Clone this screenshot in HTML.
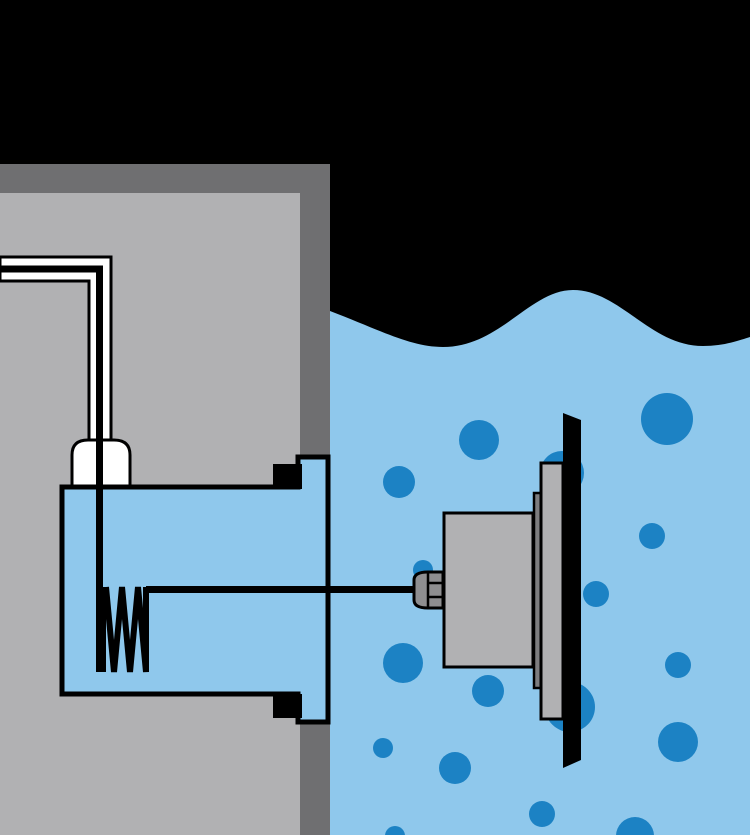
<!DOCTYPE html>
<html><head><style>html,body{margin:0;padding:0;background:#000}svg{display:block}</style></head>
<body>
<svg width="750" height="835" viewBox="0 0 750 835" xmlns="http://www.w3.org/2000/svg">
<rect width="750" height="835" fill="#000"/>
<!-- water -->
<path d="M330,311 C380,330 410,347 443,347 C500,347 530,290 573,290 C620,290 650,346 703,346 C725,346 740,340 750,337 L750,835 L330,835 Z" fill="#8fc8ec"/>
<g fill="#1c82c4">
<circle cx="667" cy="419" r="26"/><circle cx="479" cy="440" r="20"/><circle cx="399" cy="482" r="16"/>
<circle cx="562" cy="473" r="22"/><circle cx="652" cy="536" r="13"/><circle cx="423" cy="570" r="10"/>
<circle cx="596" cy="594" r="13"/><circle cx="403" cy="663" r="20"/><circle cx="488" cy="691" r="16"/>
<circle cx="570" cy="707" r="25"/><circle cx="678" cy="665" r="13"/><circle cx="383" cy="748" r="10"/>
<circle cx="678" cy="742" r="20"/><circle cx="455" cy="768" r="16"/><circle cx="542" cy="814" r="13"/>
<circle cx="395" cy="836" r="10"/><circle cx="635" cy="836" r="19"/>
</g>
<!-- wall -->
<rect x="0" y="164" width="330" height="671" fill="#6f6f71"/>
<rect x="0" y="193" width="300" height="642" fill="#b1b1b3"/>
<!-- pipe -->
<path d="M0,257 H111 V440 H89 V281 H0 Z" fill="#fff" stroke="#000" stroke-width="3"/>
<path d="M0,269 H99.5 V672" fill="none" stroke="#000" stroke-width="7"/>
<!-- bulb cap -->
<path d="M72,488 V455 Q72,440 88,440 H114 Q130,440 130,455 V488 Z" fill="#fff" stroke="#000" stroke-width="3"/>
<!-- housing -->
<path d="M62,487 H298 V457 H328 V722 H298 V694 H62 Z" fill="#8fc8ec" stroke="#000" stroke-width="5"/>
<rect x="273" y="464" width="29" height="25" fill="#000"/>
<rect x="273" y="694" width="29" height="24" fill="#000"/>
<path d="M0,269 H99.5 V672" fill="none" stroke="#000" stroke-width="7"/>
<!-- spring -->
<path d="M103,587 V672 M106,587 L114,672 L122,587 L130,672 L138,587 L146,672 V587" fill="none" stroke="#000" stroke-width="6" stroke-linejoin="miter"/>
<rect x="146" y="586" width="268" height="7" fill="#000"/>
<!-- light -->
<path d="M428,572 H443 V608 H428 Q414,608 414,600 V580 Q414,572 428,572 Z" fill="#8e8e90" stroke="#000" stroke-width="3"/>
<path d="M428,573 V607 M428,583 H443 M428,597 H443" stroke="#000" stroke-width="2.5"/>
<rect x="444" y="513" width="89" height="154" fill="#b1b1b3" stroke="#000" stroke-width="3"/>
<rect x="534" y="493" width="7" height="195" fill="#7d7d7f" stroke="#000" stroke-width="2.5"/>
<rect x="541" y="463" width="22" height="256" fill="#b1b1b3" stroke="#000" stroke-width="3"/>
<polygon points="563,413 581,420 581,760 563,768" fill="#000"/>
</svg>
</body></html>
